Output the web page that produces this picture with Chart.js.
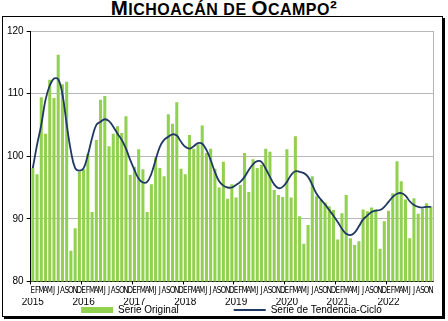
<!DOCTYPE html>
<html>
<head>
<meta charset="utf-8">
<script src="https://cdn.jsdelivr.net/npm/chart.js@4"></script>
<style>
  body { margin: 0; background: #fff; }
  #titulo { position: absolute; left: 0; top: -4px; width: 448px; text-align: center;
            font: bold 20.5px "Liberation Sans", Arial, sans-serif; letter-spacing: 0.5px; color: #000; }
  #titulo span { font-size: 0.78em; }
  #marco { position: absolute; left: 2px; top: 16px; width: 439px; height: 299px;
           border: 1px solid #000; box-shadow: 2px 2px 0 #000; background: #fff; }
  #grafica { position: absolute; left: 0; top: 0; }
</style>
</head>
<body>
<div id="titulo">M<span>ICHOACÁN DE </span>O<span>CAMPO</span>²</div>
<div id="marco"></div>
<canvas id="grafica" width="448" height="321"></canvas>
<script>
const meses = ['E', 'F', 'M', 'A', 'M', 'J', 'J', 'A', 'S', 'O', 'N', 'D'];
const anios = ['2015', '2016', '2017', '2018', '2019', '2020', '2021', '2022'];

// enero 2015 - noviembre 2022
const serieOriginal = [
  98.1, 97.1, 109.4, 103.6, 112.2, 109.3, 116.2, 111.5, 111.9, 84.9, 88.5, 97.5,
  97.9, 100.4, 91.1, 102.6, 109.0, 109.6, 101.6, 103.6, 104.8, 103.7, 106.4, 97.0,
  98.3, 101.1, 97.9, 91.1, 95.5, 99.8, 98.1, 96.8, 106.7, 105.2, 108.6, 98.0,
  97.1, 103.4, 101.2, 101.9, 104.9, 100.5, 101.2, 98.0, 95.0, 99.1, 93.2, 95.5,
  93.4, 95.4, 100.5, 94.3, 99.5, 98.1, 98.6, 101.2, 100.7, 94.6, 93.8, 93.5,
  101.1, 93.4, 103.2, 90.4, 86.0, 89.0, 96.8, 93.6, 93.0, 92.6, 92.0, 91.4,
  86.7, 90.9, 93.8, 86.9, 85.8, 86.4, 91.5, 91.2, 91.8, 91.5, 85.2, 89.6,
  91.3, 94.1, 99.2, 96.0, 93.1, 86.9, 93.3, 90.8, 91.6, 92.5, 92.0
];

const tendenciaCiclo = [
  98.1, 101.8, 105.0, 109.0, 111.3, 112.4, 112.3, 109.9, 105.1, 100.8, 98.1, 97.7,
  98.1, 100.2, 102.9, 105.0, 105.5, 105.9, 105.6, 104.7, 103.6, 102.6, 101.2, 99.4,
  97.8, 96.4, 95.8, 95.9, 97.2, 99.4, 101.5, 102.6, 103.1, 103.5, 103.3, 102.3,
  101.5, 101.2, 101.6, 102.1, 102.0, 101.0, 99.4, 97.5, 96.0, 95.3, 95.0, 95.0,
  95.4, 95.9, 96.7, 97.8, 98.7, 99.2, 99.1, 98.0, 96.7, 95.5, 94.9, 95.1,
  95.9, 97.0, 97.6, 97.5, 97.3, 96.7, 95.4, 94.0, 93.1, 92.3, 91.4, 90.5,
  89.5, 88.4, 87.6, 87.4, 87.8, 88.8, 89.9, 90.5, 91.1, 91.3, 91.4, 91.9,
  92.7, 93.5, 94.0, 94.1, 93.7, 92.8, 92.2, 91.9, 91.8, 91.9, 91.9
];

const etiquetas = serieOriginal.map((v, i) => meses[i % 12]);

// borde gris derecho del area de trazado
const bordeDerecho = {
  id: 'bordeDerecho',
  afterDraw(chart) {
    const a = chart.chartArea, ctx = chart.ctx;
    ctx.save();
    ctx.strokeStyle = '#b4b4b4';
    ctx.lineWidth = 1;
    ctx.beginPath();
    ctx.moveTo(a.right + 0.5, a.top);
    ctx.lineTo(a.right + 0.5, a.bottom);
    ctx.stroke();
    ctx.restore();
  }
};

// la leyenda va un poco a la derecha, como en el original
const moverLeyenda = {
  id: 'moverLeyenda',
  afterLayout(chart) {
    chart.legend.left += 13;
    chart.legend.right += 13;
    chart.legend.top -= 1;
  }
};

Chart.defaults.font.family = '"Liberation Sans", Arial, sans-serif';
Chart.defaults.color = '#000';

new Chart(document.getElementById('grafica'), {
  type: 'bar',
  data: {
    labels: etiquetas,
    datasets: [
      {
        label: 'Serie Original',
        data: serieOriginal,
        backgroundColor: '#92D050',
        barPercentage: 0.72,
        categoryPercentage: 1,
        pointStyle: 'rect',
        order: 2
      },
      {
        type: 'line',
        label: 'Serie de Tendencia-Ciclo',
        data: tendenciaCiclo,
        borderColor: '#1F3864',
        borderWidth: 1.8,
        pointRadius: 0,
        pointStyle: 'line',
        tension: 0.4,
        fill: false,
        order: 1
      }
    ]
  },
  options: {
    responsive: false,
    animation: false,
    layout: { padding: { top: 31, right: 15, left: 4, bottom: 0 } },
    plugins: {
      tooltip: { enabled: false },
      legend: {
        position: 'bottom',
        maxHeight: 15,
        labels: {
          usePointStyle: true,
          pointStyleWidth: 32,
          boxHeight: 6,
          padding: 0,
          font: { size: 10 },
          generateLabels(chart) {
            const items = Chart.defaults.plugins.legend.labels.generateLabels(chart)
              .sort((a, b) => a.datasetIndex - b.datasetIndex);
            items[0].text += '\u2002'.repeat(11);
            return items;
          }
        }
      }
    },
    scales: {
      x: {
        offset: true,
        border: { color: '#000' },
        grid: {
          offset: true,
          drawOnChartArea: false,
          tickLength: 3,
          color: ctx => (ctx.index % 12 === 0 ? '#000' : 'rgba(0,0,0,0)')
        },
        ticks: {
          autoSkip: false,
          maxRotation: 0,
          padding: 2,
          font: { size: 8, family: '"Liberation Sans Narrow", "DejaVu Sans Condensed", sans-serif' }
        }
      },
      x2: {
        type: 'category',
        position: 'bottom',
        offset: true,
        border: { display: false },
        grid: { display: false, drawTicks: false },
        ticks: {
          autoSkip: false,
          maxRotation: 0,
          padding: -2,
          font: { size: 10 },
          callback: (v, i) => (i % 12 === 0 ? anios[i / 12] : '')
        }
      },
      y: {
        min: 80,
        max: 120,
        border: { color: '#000' },
        grid: { color: '#b8b8b8', tickColor: '#000', tickLength: 4 },
        ticks: { stepSize: 10, padding: 3, font: { size: 10 } }
      }
    }
  },
  plugins: [bordeDerecho, moverLeyenda]
});
</script>
</body>
</html>
